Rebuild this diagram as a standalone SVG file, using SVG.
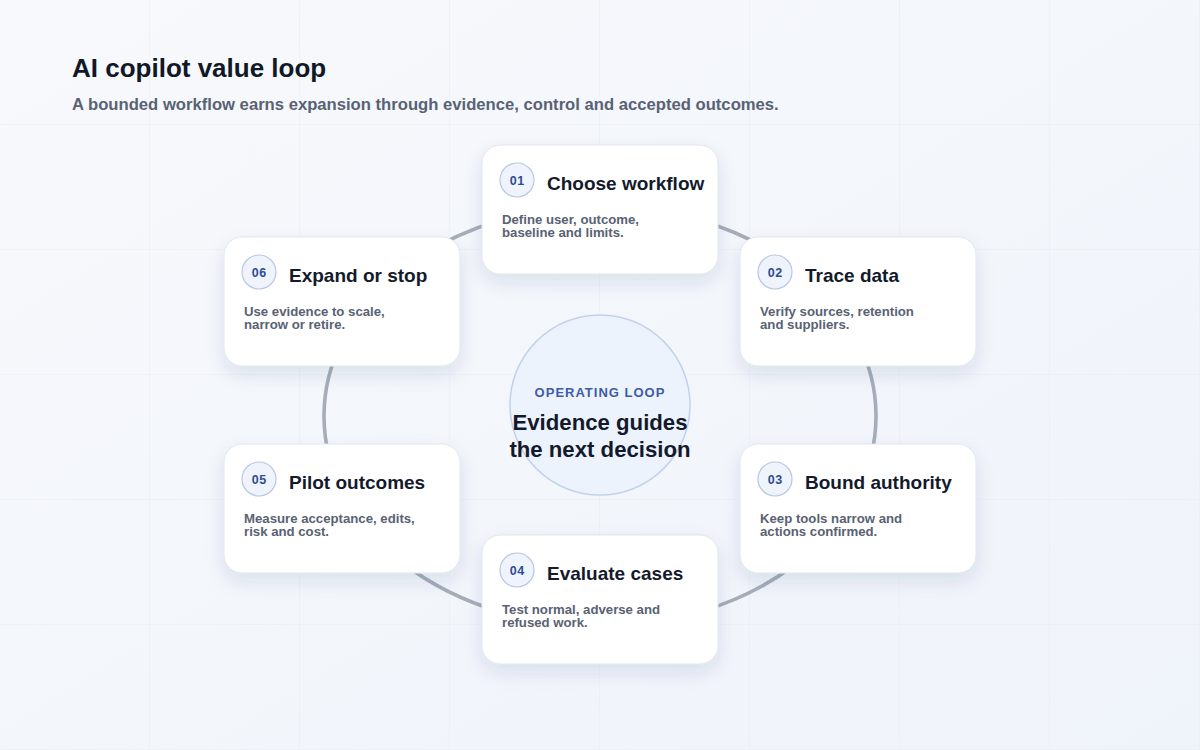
<svg xmlns="http://www.w3.org/2000/svg" width="1200" height="750" viewBox="0 0 1200 750">
  <defs>
    <linearGradient id="bg" x1="0" y1="0" x2="1" y2="1">
      <stop offset="0" stop-color="#f7f9fc"/>
      <stop offset="1" stop-color="#eff3fa"/>
    </linearGradient>
    <pattern id="grid" width="150" height="125" patternUnits="userSpaceOnUse">
      <path d="M150 0 V125 M0 125 H150" fill="none" stroke="#e8ecf3" stroke-width="1"/>
    </pattern>
    <filter id="shadow" x="-20%" y="-20%" width="140%" height="150%">
      <feDropShadow dx="0" dy="8" stdDeviation="9" flood-color="#1e3a6e" flood-opacity="0.11"/>
    </filter>
    <style>
      .title { font-family: "Liberation Sans", Arial, sans-serif; font-weight: 700; font-size: 26px; fill: #111827; }
      .subtitle { font-family: "Liberation Sans", Arial, sans-serif; font-weight: 700; font-size: 16.65px; fill: #596275; }
      .card { fill: #ffffff; stroke: #dfe5ee; stroke-width: 1; filter: url(#shadow); }
      .badge { fill: #eef3fc; stroke: #b8c7e2; stroke-width: 1.2; }
      .num { font-family: "Liberation Sans", Arial, sans-serif; font-weight: 700; font-size: 12.5px; letter-spacing: 0.4px; fill: #2e4b95; text-anchor: middle; }
      .ctitle { font-family: "Liberation Sans", Arial, sans-serif; font-weight: 700; font-size: 19px; fill: #131a2b; }
      .desc { font-family: "Liberation Sans", Arial, sans-serif; font-weight: 700; font-size: 13.2px; fill: #596273; }
      .ring { fill: none; stroke: #a6adb9; stroke-width: 3.6; }
      .hub { fill: #edf3fc; stroke: #c3d2ea; stroke-width: 1.5; }
      .hublabel { font-family: "Liberation Sans", Arial, sans-serif; font-weight: 700; font-size: 13px; letter-spacing: 1px; fill: #3d5ba8; text-anchor: middle; }
      .hubtext { font-family: "Liberation Sans", Arial, sans-serif; font-weight: 700; font-size: 22.2px; fill: #121a2b; text-anchor: middle; }
    </style>
  </defs>

  <rect width="1200" height="750" fill="url(#bg)"/>
  <rect width="1200" height="750" fill="url(#grid)"/>

  <g id="header">
    <text class="title" x="72" y="77">AI copilot value loop</text>
    <text class="subtitle" x="72" y="110">A bounded workflow earns expansion through evidence, control and accepted outcomes.</text>
  </g>

  <g id="connectors">
    <ellipse class="ring" cx="600" cy="416" rx="276" ry="210"/>
  </g>

  <g id="hub">
    <circle class="hub" cx="600" cy="405" r="90"/>
    <text class="hublabel" x="600" y="397">OPERATING LOOP</text>
    <text class="hubtext" x="600" y="430">Evidence guides</text>
    <text class="hubtext" x="600" y="457">the next decision</text>
  </g>

  <g id="step-01" transform="translate(482,145)">
    <rect class="card" width="236" height="129" rx="18"/>
    <circle class="badge" cx="35" cy="35" r="17"/>
    <text class="num" x="35.2" y="39.5">01</text>
    <text class="ctitle" x="65" y="45">Choose workflow</text>
    <text class="desc" x="20" y="79">Define user, outcome,</text>
    <text class="desc" x="20" y="92">baseline and limits.</text>
  </g>

  <g id="step-02" transform="translate(740,237)">
    <rect class="card" width="236" height="129" rx="18"/>
    <circle class="badge" cx="35" cy="35" r="17"/>
    <text class="num" x="35.2" y="39.5">02</text>
    <text class="ctitle" x="65" y="45">Trace data</text>
    <text class="desc" x="20" y="79">Verify sources, retention</text>
    <text class="desc" x="20" y="92">and suppliers.</text>
  </g>

  <g id="step-03" transform="translate(740,444)">
    <rect class="card" width="236" height="129" rx="18"/>
    <circle class="badge" cx="35" cy="35" r="17"/>
    <text class="num" x="35.2" y="39.5">03</text>
    <text class="ctitle" x="65" y="45">Bound authority</text>
    <text class="desc" x="20" y="79">Keep tools narrow and</text>
    <text class="desc" x="20" y="92">actions confirmed.</text>
  </g>

  <g id="step-04" transform="translate(482,535)">
    <rect class="card" width="236" height="129" rx="18"/>
    <circle class="badge" cx="35" cy="35" r="17"/>
    <text class="num" x="35.2" y="39.5">04</text>
    <text class="ctitle" x="65" y="45">Evaluate cases</text>
    <text class="desc" x="20" y="79">Test normal, adverse and</text>
    <text class="desc" x="20" y="92">refused work.</text>
  </g>

  <g id="step-05" transform="translate(224,444)">
    <rect class="card" width="236" height="129" rx="18"/>
    <circle class="badge" cx="35" cy="35" r="17"/>
    <text class="num" x="35.2" y="39.5">05</text>
    <text class="ctitle" x="65" y="45">Pilot outcomes</text>
    <text class="desc" x="20" y="79">Measure acceptance, edits,</text>
    <text class="desc" x="20" y="92">risk and cost.</text>
  </g>

  <g id="step-06" transform="translate(224,237)">
    <rect class="card" width="236" height="129" rx="18"/>
    <circle class="badge" cx="35" cy="35" r="17"/>
    <text class="num" x="35.2" y="39.5">06</text>
    <text class="ctitle" x="65" y="45">Expand or stop</text>
    <text class="desc" x="20" y="79">Use evidence to scale,</text>
    <text class="desc" x="20" y="92">narrow or retire.</text>
  </g>
</svg>
